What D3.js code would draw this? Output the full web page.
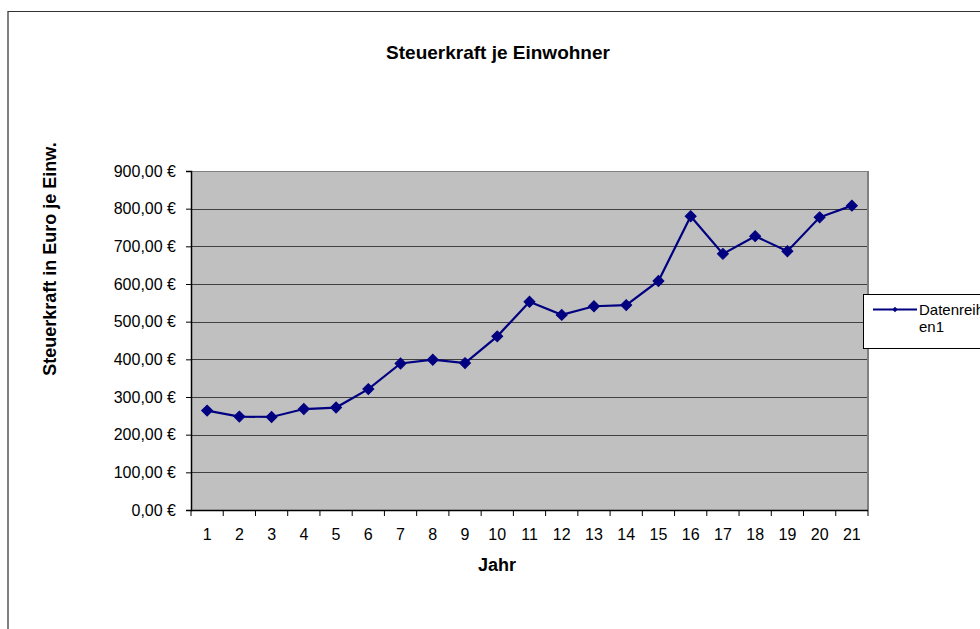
<!DOCTYPE html>
<html><head><meta charset="utf-8">
<script src="https://cdn.jsdelivr.net/npm/d3@7"></script>
<style>
html,body{margin:0;padding:0;background:#fff;}
svg{display:block;font-family:"Liberation Sans",Arial,sans-serif;}
</style></head>
<body>
<svg id="c" width="980" height="629"></svg>
<script>
const title = "Steuerkraft je Einwohner";
const xTitle = "Jahr";
const yTitle = "Steuerkraft in Euro je Einw.";
const seriesName = ["Datenreih", "en1"];
const years = ["1","2","3","4","5","6","7","8","9","10","11","12","13","14","15","16","17","18","19","20","21"];
const values = [264, 248, 247, 268, 272, 321, 389, 399, 390, 461, 553, 518, 541, 544, 608, 780, 680, 727, 687, 777, 808];
const yTicks = [0,100,200,300,400,500,600,700,800,900];

const svg = d3.select("#c");
const L = 191, R = 868, T = 171, B = 510;
const FF = "Liberation Sans, Arial, sans-serif";

svg.append("line").attr("x1",8).attr("x2",8).attr("y1",11).attr("y2",629).attr("stroke","#808080").attr("stroke-width",2);
svg.append("line").attr("x1",8).attr("x2",980).attr("y1",11.5).attr("y2",11.5).attr("stroke","#333").attr("stroke-width",1);

const x = d3.scaleBand().domain(years).range([L,R]).paddingInner(0).paddingOuter(0);
const y = d3.scaleLinear().domain([0,900]).range([B,T]);

svg.append("rect").attr("x",L).attr("y",T).attr("width",R-L).attr("height",B-T).attr("fill","#C0C0C0");

svg.append("g").selectAll("line").data(yTicks.filter(d=>d>0)).join("line")
  .attr("x1",L).attr("x2",R).attr("y1",d=>Math.round(y(d))+0.5).attr("y2",d=>Math.round(y(d))+0.5)
  .attr("stroke","#404040").attr("stroke-width",1.2);

svg.append("line").attr("x1",R).attr("x2",R).attr("y1",T).attr("y2",B).attr("stroke","#808080").attr("stroke-width",2);
svg.append("line").attr("x1",L).attr("x2",R).attr("y1",T+0.5).attr("y2",T+0.5).attr("stroke","#808080").attr("stroke-width",1);

const yAxis = d3.axisLeft(y).tickValues(yTicks).tickSize(5).tickPadding(10)
  .tickFormat(d => d3.format(".2f")(d).replace(".",",") + " €");
const gy = svg.append("g").attr("transform",`translate(${L},0)`).call(yAxis);
gy.select(".domain").attr("stroke","#000").attr("stroke-width",1.5);
gy.selectAll(".tick line").attr("stroke","#000");
gy.selectAll(".tick text").attr("font-size",16).attr("fill","#000").attr("font-family",FF);

const gx = svg.append("g").attr("transform",`translate(0,${B})`);
gx.append("line").attr("x1",L).attr("x2",R).attr("y1",0.5).attr("y2",0.5).attr("stroke","#000").attr("stroke-width",1.5);
const bounds = years.map(d=>x(d)).concat([R]);
gx.selectAll("line.tk").data(bounds).join("line").attr("class","tk")
  .attr("x1",d=>d).attr("x2",d=>d).attr("y1",0).attr("y2",6).attr("stroke","#000");
gx.selectAll("text").data(years).join("text")
  .attr("x",d=>x(d)+x.bandwidth()/2).attr("y",30)
  .attr("text-anchor","middle").attr("font-size",16).attr("fill","#000").text(d=>d);

const line = d3.line().x((d,i)=>x(years[i])+x.bandwidth()/2).y(d=>y(d));
svg.append("path").datum(values).attr("d",line).attr("fill","none").attr("stroke","#000080").attr("stroke-width",2.2);
svg.append("g").selectAll("path").data(values).join("path")
  .attr("d",d3.symbol().type(d3.symbolSquare).size(60)())
  .attr("transform",(d,i)=>`translate(${x(years[i])+x.bandwidth()/2},${y(d)}) rotate(45)`)
  .attr("fill","#000080").attr("stroke","#000080").attr("stroke-width",1);

svg.append("text").attr("x",498).attr("y",59).attr("text-anchor","middle")
  .attr("font-size",19).attr("font-weight","bold").text(title);
svg.append("text").attr("x",497).attr("y",571).attr("text-anchor","middle")
  .attr("font-size",18).attr("font-weight","bold").text(xTitle);
svg.append("text").attr("transform","translate(56,259) rotate(-90)").attr("text-anchor","middle")
  .attr("font-size",18).attr("font-weight","bold").text(yTitle);

const lg = svg.append("g");
lg.append("rect").attr("x",863.5).attr("y",294.5).attr("width",130).attr("height",54).attr("fill","#fff").attr("stroke","#000").attr("stroke-width",1);
lg.append("line").attr("x1",873).attr("x2",917).attr("y1",309.5).attr("y2",309.5).attr("stroke","#000080").attr("stroke-width",2);
lg.append("path").attr("d",d3.symbol().type(d3.symbolSquare).size(14)()).attr("transform","translate(895,309.5) rotate(45)").attr("fill","#000080");
lg.append("text").attr("x",919).attr("y",315).attr("font-size",15).attr("fill","#000").text(seriesName[0]);
lg.append("text").attr("x",919).attr("y",332).attr("font-size",15).attr("fill","#000").text(seriesName[1]);
</script>
</body></html>
